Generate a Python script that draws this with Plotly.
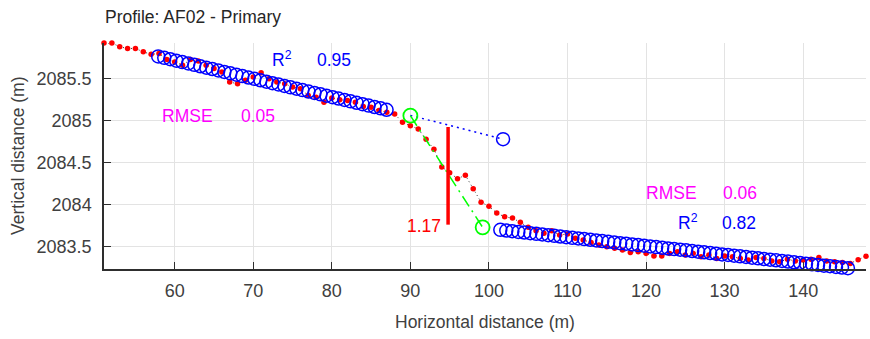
import plotly.graph_objects as go

# ---- profile data (red dots) ----
profile_x = list(range(51, 149))
profile_y = [
    2085.925, 2085.925, 2085.88, 2085.86, 2085.86, 2085.82, 2085.79, 2085.80, 2085.73, 2085.70,
    2085.66, 2085.73, 2085.71, 2085.66, 2085.62, 2085.58, 2085.46, 2085.44, 2085.48, 2085.52,
    2085.57, 2085.50, 2085.46, 2085.44, 2085.40, 2085.38, 2085.30, 2085.28, 2085.22, 2085.27,
    2085.25, 2085.24, 2085.22, 2085.17, 2085.16, 2085.12, 2085.10, 2085.08, 2084.98, 2084.94,
    2084.90, 2084.78, 2084.66, 2084.45, 2084.38, 2084.31, 2084.35, 2084.19, 2084.03, 2083.98,
    2083.90, 2083.855, 2083.84, 2083.79, 2083.73, 2083.69, 2083.66, 2083.69, 2083.64, 2083.65,
    2083.60, 2083.58, 2083.55, 2083.52, 2083.50, 2083.48, 2083.46, 2083.43, 2083.44, 2083.42,
    2083.39, 2083.39, 2083.42, 2083.44, 2083.40, 2083.42, 2083.38, 2083.40, 2083.36, 2083.39,
    2083.38, 2083.36, 2083.34, 2083.37, 2083.36, 2083.33, 2083.32, 2083.35, 2083.33, 2083.34,
    2083.35, 2083.37, 2083.33, 2083.32, 2083.31, 2083.30, 2083.345, 2083.385,
]

# ---- upper fitted segment (blue circles) ----
fit1_x = [57.90, 58.67, 59.43, 60.20, 60.96, 61.73, 62.49, 63.26, 64.02, 64.79,
          65.55, 66.32, 67.08, 67.85, 68.61, 69.38, 70.14, 70.91, 71.67, 72.44,
          73.20, 73.97, 74.73, 75.50, 76.26, 77.03, 77.79, 78.56, 79.32, 80.09,
          80.85, 81.62, 82.38, 83.15, 83.91, 84.68, 85.44, 86.21, 86.97]
fit1_y = [2085.765, 2085.748, 2085.732, 2085.715, 2085.698, 2085.681, 2085.665, 2085.648, 2085.631, 2085.615,
          2085.598, 2085.581, 2085.564, 2085.548, 2085.531, 2085.514, 2085.498, 2085.481, 2085.464, 2085.447,
          2085.431, 2085.414, 2085.397, 2085.381, 2085.364, 2085.347, 2085.330, 2085.314, 2085.297, 2085.280,
          2085.264, 2085.247, 2085.230, 2085.213, 2085.197, 2085.180, 2085.163, 2085.147, 2085.130]

# ---- lower fitted segment (blue circles) ----
fit2_x = [101.45, 102.21, 102.98, 103.74, 104.50, 105.27, 106.03, 106.79, 107.55, 108.32,
          109.08, 109.84, 110.61, 111.37, 112.13, 112.90, 113.66, 114.42, 115.18, 115.95,
          116.71, 117.47, 118.24, 119.00, 119.76, 120.53, 121.29, 122.05, 122.81, 123.58,
          124.34, 125.10, 125.87, 126.63, 127.39, 128.16, 128.92, 129.68, 130.44, 131.21,
          131.97, 132.73, 133.50, 134.26, 135.02, 135.79, 136.55, 137.31, 138.07, 138.84,
          139.60, 140.36, 141.13, 141.89, 142.65, 143.42, 144.18, 144.94, 145.70]
fit2_y = [2083.700, 2083.692, 2083.684, 2083.676, 2083.668, 2083.661, 2083.653, 2083.645, 2083.637, 2083.629,
          2083.621, 2083.613, 2083.605, 2083.598, 2083.590, 2083.582, 2083.574, 2083.566, 2083.558, 2083.550,
          2083.542, 2083.535, 2083.527, 2083.519, 2083.511, 2083.503, 2083.495, 2083.487, 2083.479, 2083.471,
          2083.464, 2083.456, 2083.448, 2083.440, 2083.432, 2083.424, 2083.416, 2083.408, 2083.401, 2083.393,
          2083.385, 2083.377, 2083.369, 2083.361, 2083.353, 2083.345, 2083.338, 2083.330, 2083.322, 2083.314,
          2083.306, 2083.298, 2083.290, 2083.282, 2083.274, 2083.267, 2083.259, 2083.251, 2083.243]

# ---- extension of upper fit, scarp crest/base, scarp height ----
ext_x = [90.0, 101.8]
ext_y = [2085.063, 2084.78]
scarp_pts_x = [90.0, 99.2]
scarp_pts_y = [2085.06, 2083.73]
height_x = [94.8, 94.8]
height_y = [2084.925, 2083.762]
height_label = "1.17"

rmse_upper, r2_upper = "0.05", "0.95"
rmse_lower, r2_lower = "0.06", "0.82"

x_ticks = [60, 70, 80, 90, 100, 110, 120, 130, 140]
y_ticks = [2083.5, 2084, 2084.5, 2085, 2085.5]
y_tick_text = ["2083.5", "2084", "2084.5", "2085", "2085.5"]

FONT = "Liberation Sans, Arial, Helvetica, sans-serif"
AX = "#2e2e2e"
TXT = "#404040"
BLUE = "#0000ff"
RED = "#ff0000"
GREEN = "#00ff00"
MAG = "#ff00ff"

W, H = 870, 339
ML, MR, MT, MB = 104, 4, 43, 70
PW, PH = W - ML - MR, H - MT - MB

fig = go.Figure()

# dotted black profile line
fig.add_trace(go.Scatter(x=profile_x, y=profile_y, mode="lines",
                         line=dict(color="#333333", width=1, dash="1px,3px"),
                         hoverinfo="skip", cliponaxis=False))
# red profile points
fig.add_trace(go.Scatter(x=profile_x, y=profile_y, mode="markers",
                         marker=dict(color=RED, size=5.5, line=dict(width=0)),
                         cliponaxis=False))
# blue dotted extension
fig.add_trace(go.Scatter(x=ext_x, y=ext_y, mode="lines",
                         line=dict(color=BLUE, width=1.5, dash="2px,4px")))
fig.add_trace(go.Scatter(x=[ext_x[-1]], y=[ext_y[-1]], mode="markers",
                         marker=dict(symbol="circle-open", size=13, color=BLUE, line=dict(width=1.5))))
# fit circles
for fx, fy in ((fit1_x, fit1_y), (fit2_x, fit2_y)):
    fig.add_trace(go.Scatter(x=fx, y=fy, mode="markers", cliponaxis=False,
                             marker=dict(symbol="circle-open", size=13, color=BLUE,
                                         line=dict(width=1.5))))
# green dash-dot line & circles
fig.add_trace(go.Scatter(x=scarp_pts_x, y=scarp_pts_y, mode="lines+markers",
                         line=dict(color=GREEN, width=1.5, dash="12px,5px,2px,5px"),
                         marker=dict(symbol="circle-open", size=14, color=GREEN, line=dict(width=1.8))))
# red scarp height bar
fig.add_trace(go.Scatter(x=height_x, y=height_y, mode="lines",
                         line=dict(color=RED, width=3.5)))

ann_font = dict(family=FONT, size=17.5)
annotations = [
    dict(x=72.1, y=2085.74, text="R<sup>2</sup>", font=dict(color=BLUE, **ann_font)),
    dict(x=77.8, y=2085.726, text=r2_upper, font=dict(color=BLUE, **ann_font)),
    dict(x=58.1, y=2085.06, text="RMSE", font=dict(color=MAG, **ann_font)),
    dict(x=68.15, y=2085.06, text=rmse_upper, font=dict(color=MAG, **ann_font)),
    dict(x=119.8, y=2084.143, text="RMSE", font=dict(color=MAG, **ann_font)),
    dict(x=129.55, y=2084.143, text=rmse_lower, font=dict(color=MAG, **ann_font)),
    dict(x=123.85, y=2083.793, text="R<sup>2</sup>", font=dict(color=BLUE, **ann_font)),
    dict(x=129.45, y=2083.779, text=r2_lower, font=dict(color=BLUE, **ann_font)),
]
for a in annotations:
    a.update(xref="x", yref="y", xanchor="left", yanchor="middle", showarrow=False)
annotations.append(dict(x=94.1, y=2083.746, text=height_label, xref="x", yref="y",
                        xanchor="right", yanchor="middle", showarrow=False,
                        font=dict(color=RED, **ann_font)))
# axis titles
annotations.append(dict(text="Horizontal distance (m)", xref="paper", yref="paper",
                        x=0.5, y=(0 - (322 - (MT + PH))) / PH, xanchor="center", yanchor="middle",
                        showarrow=False, font=dict(family=FONT, size=17.5, color=TXT)))
annotations.append(dict(text="Vertical distance (m)", xref="paper", yref="paper",
                        x=(18 - ML) / PW, y=0.5, xanchor="center", yanchor="middle",
                        textangle=-90, showarrow=False,
                        font=dict(family=FONT, size=17.5, color=TXT)))

fig.update_layout(
    width=W, height=H, autosize=False,
    margin=dict(l=ML, r=MR, t=MT, b=MB, pad=0, autoexpand=False),
    paper_bgcolor="white", plot_bgcolor="white",
    showlegend=False,
    font=dict(family=FONT, size=18, color=AX),
    title=dict(text="Profile: AF02 - Primary", x=105 / W, xref="container", xanchor="left",
               y=1 - 17 / H, yref="container", yanchor="middle",
               font=dict(family=FONT, size=17.5, color="#262626")),
    annotations=annotations,
)
fig.update_xaxes(range=[51, 148], tickvals=x_ticks, ticks="inside", ticklen=7, tickwidth=1.2,
                 tickcolor=AX, showline=True, linecolor=AX, linewidth=1.5, mirror=False,
                 showgrid=True, gridcolor="#e3e3e3", gridwidth=1, zeroline=False,
                 automargin=False, layer="above traces", ticklabelstandoff=5,
                 tickfont=dict(family=FONT, size=18, color=TXT))
fig.update_yaxes(range=[2083.234, 2085.925], tickvals=y_ticks, ticktext=y_tick_text,
                 ticks="inside", ticklen=7, tickwidth=1.2, tickcolor=AX,
                 showline=True, linecolor=AX, linewidth=1.5, mirror=False,
                 showgrid=True, gridcolor="#e3e3e3", gridwidth=1, zeroline=False,
                 automargin=False, layer="above traces", ticklabelstandoff=7,
                 tickfont=dict(family=FONT, size=18, color=TXT))

fig.write_html("out.html", config={"displayModeBar": False},
               post_script="document.body.style.margin='0';")
